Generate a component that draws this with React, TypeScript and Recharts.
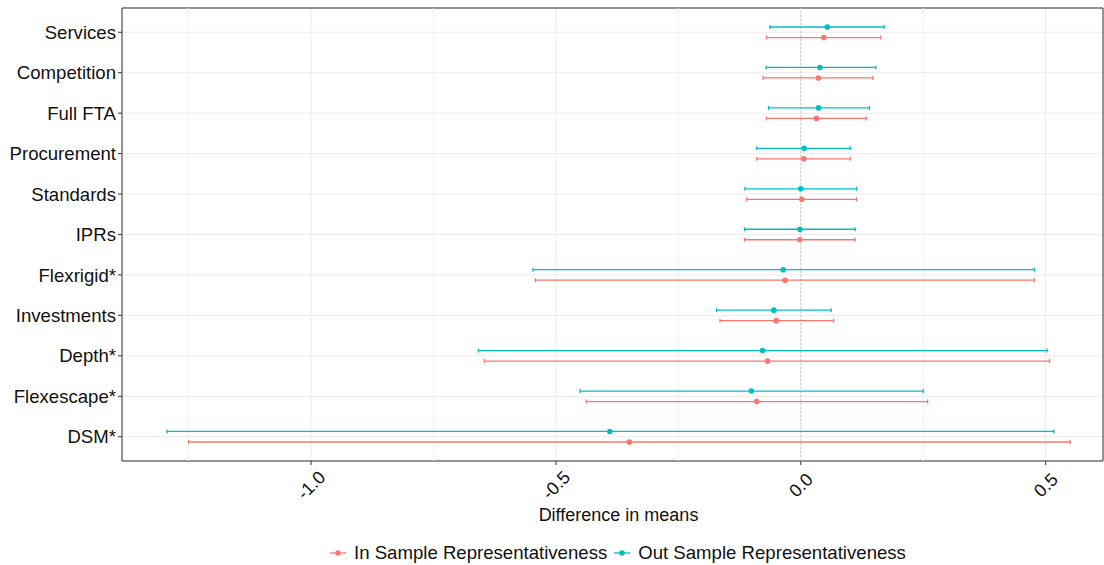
import React from "react";
import {
  ScatterChart,
  Scatter,
  ErrorBar,
  XAxis,
  YAxis,
  CartesianGrid,
  ReferenceLine,
  ReferenceArea,
} from "recharts";

const RED = "#F8766D";
const TEAL = "#00BFC4";
const FONT = "'Liberation Sans', Arial, sans-serif";

// top to bottom, as in the figure
const categories = [
  "Services",
  "Competition",
  "Full FTA",
  "Procurement",
  "Standards",
  "IPRs",
  "Flexrigid*",
  "Investments",
  "Depth*",
  "Flexescape*",
  "DSM*",
];

// In Sample Representativeness
const inEst = [0.047, 0.036, 0.032, 0.006, 0.002, -0.002, -0.032, -0.05, -0.068, -0.09, -0.35];
const inLow = [-0.07, -0.077, -0.07, -0.09, -0.111, -0.115, -0.542, -0.165, -0.646, -0.438, -1.25];
const inHigh = [0.163, 0.147, 0.134, 0.101, 0.114, 0.111, 0.477, 0.067, 0.508, 0.259, 0.55];

// Out Sample Representativeness
const outEst = [0.054, 0.039, 0.036, 0.007, 0.0, -0.002, -0.036, -0.055, -0.078, -0.101, -0.39];
const outLow = [-0.063, -0.071, -0.066, -0.09, -0.114, -0.115, -0.547, -0.172, -0.658, -0.451, -1.294];
const outHigh = [0.17, 0.153, 0.14, 0.101, 0.114, 0.111, 0.477, 0.062, 0.503, 0.25, 0.517];

const xTicks = [-1, -0.5, 0, 0.5];
const xMinor = [-1.25, -0.75, -0.25, 0.25];
const X_DOMAIN: [number, number] = [-1.386, 0.617];

const n = categories.length;
const yTicks = categories.map((_, i) => n - i);
const Y_DOMAIN: [number, number] = [0.4, n + 0.6];
const DODGE = 0.13;

const inData = categories.map((c, i) => ({
  name: c,
  x: inEst[i],
  y: n - i - DODGE,
  err: [inEst[i] - inLow[i], inHigh[i] - inEst[i]],
}));

const outData = categories.map((c, i) => ({
  name: c,
  x: outEst[i],
  y: n - i + DODGE,
  err: [outEst[i] - outLow[i], outHigh[i] - outEst[i]],
}));

const dot = (color: string) => (props: any) =>
  <circle cx={props.cx} cy={props.cy} r={2.8} fill={color} />;

const XTick = ({ x, y, payload }: any) => (
  <g transform={`translate(${x},${y + 18})`}>
    <text
      transform="rotate(-45)"
      textAnchor="middle"
      dy="0.35em"
      fontSize={18}
      fontFamily={FONT}
      fill="#111"
    >
      {Number(payload.value).toFixed(1)}
    </text>
  </g>
);

const LegendKey = ({ color }: { color: string }) => (
  <svg width={18} height={10} style={{ marginRight: 7 }}>
    <line x1={1} y1={5} x2={17} y2={5} stroke={color} strokeWidth={1.3} />
    <circle cx={9} cy={5} r={2.8} fill={color} />
  </svg>
);

export default function App() {
  return (
    <div style={{ position: "absolute", left: 0, top: 0, width: 1104, height: 565, background: "#fff" }}>
      <ScatterChart width={1104} height={565} margin={{ top: 8, right: 1, bottom: 0, left: 0 }}>
        <CartesianGrid stroke="#EBEBEB" strokeWidth={1} />
        {xMinor.map((v) => (
          <ReferenceLine key={v} x={v} stroke="#F2F2F2" strokeWidth={1} />
        ))}
        <ReferenceLine x={0} stroke="#C8C8C8" strokeDasharray="2 2" />
        <XAxis
          type="number"
          dataKey="x"
          domain={X_DOMAIN}
          allowDataOverflow
          ticks={xTicks}
          interval={0}
          height={104}
          axisLine={false}
          tickLine={{ stroke: "#333333" }}
          tickSize={4}
          tick={<XTick />}
          label={{
            value: "Difference in means",
            position: "insideBottom",
            offset: 44,
            dx: 6,
            fontSize: 18,
            fontFamily: FONT,
            fill: "#111",
          }}
        />
        <YAxis
          type="number"
          dataKey="y"
          domain={Y_DOMAIN}
          allowDataOverflow
          ticks={yTicks}
          interval={0}
          width={122}
          axisLine={false}
          tickLine={{ stroke: "#333333" }}
          tickSize={4}
          tickMargin={2}
          tickFormatter={(v: number) => categories[n - v]}
          tick={{ fontSize: 18.6, fontFamily: FONT, fill: "#111" }}
        />
        <ReferenceArea
          x1={X_DOMAIN[0]}
          x2={X_DOMAIN[1]}
          y1={Y_DOMAIN[0]}
          y2={Y_DOMAIN[1]}
          fill="none"
          stroke="#333333"
          strokeWidth={1}
          ifOverflow="visible"
        />
        <Scatter data={inData} shape={dot(RED)} isAnimationActive={false}>
          <ErrorBar dataKey="err" direction="x" width={2} stroke={RED} strokeWidth={1.3} />
        </Scatter>
        <Scatter data={outData} shape={dot(TEAL)} isAnimationActive={false}>
          <ErrorBar dataKey="err" direction="x" width={2} stroke={TEAL} strokeWidth={1.3} />
        </Scatter>
      </ScatterChart>
      <div
        style={{
          position: "absolute",
          left: 329,
          top: 542,
          display: "flex",
          alignItems: "center",
          fontFamily: FONT,
          fontSize: 18.6,
          color: "#111",
          whiteSpace: "nowrap",
        }}
      >
        <LegendKey color={RED} />
        <span style={{ marginRight: 6 }}>In Sample Representativeness</span>
        <LegendKey color={TEAL} />
        <span>Out Sample Representativeness</span>
      </div>
    </div>
  );
}
